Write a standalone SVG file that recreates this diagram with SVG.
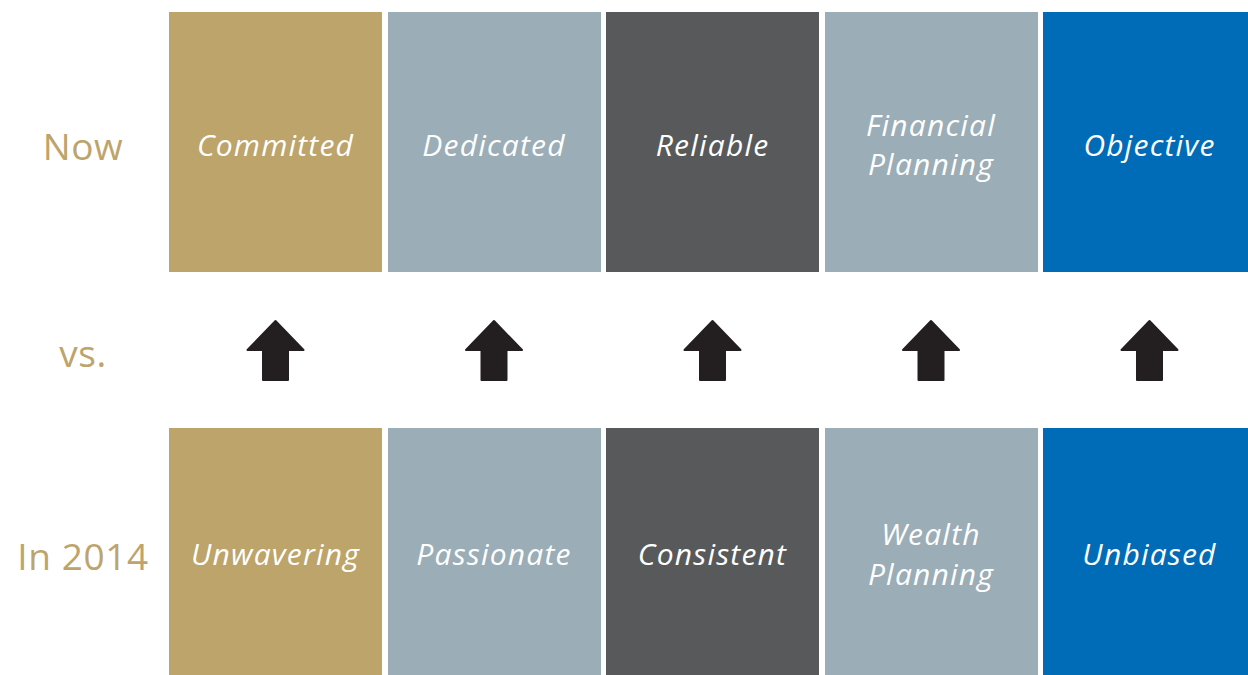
<svg xmlns="http://www.w3.org/2000/svg" width="1248" height="675" viewBox="0 0 1248 675">
<style>
.lbl{font-family:"Open Sans","Liberation Sans",sans-serif;fill:#bda46b;font-size:37px;text-anchor:middle;letter-spacing:0.6px}
.t{font-family:"Open Sans","Liberation Sans",sans-serif;font-style:italic;fill:#ffffff;font-size:30px;text-anchor:middle;letter-spacing:1.2px}
.gold{fill:#bda46b}.grey{fill:#9badb6}.dark{fill:#58595b}.blue{fill:#006cb7}
.arr{fill:#231f20;stroke:#231f20;stroke-width:2;stroke-linejoin:round}
</style>
<rect width="1248" height="675" fill="#ffffff"/>
<g id="row-labels">
<text class="lbl" x="83" y="160">Now</text>
<text class="lbl" x="83" y="367">vs.</text>
<text class="lbl" x="83" y="570">In 2014</text>
</g>
<g id="now-committed"><rect class="gold" x="169" y="12" width="213" height="260"/><text class="t" x="275.5" y="156">Committed</text></g>
<g id="now-dedicated"><rect class="grey" x="388" y="12" width="213" height="260"/><text class="t" x="494" y="156">Dedicated</text></g>
<g id="now-reliable"><rect class="dark" x="606" y="12" width="213" height="260"/><text class="t" x="712.5" y="156">Reliable</text></g>
<g id="now-financial"><rect class="grey" x="825" y="12" width="213" height="260"/><text class="t" x="931" y="136">Financial</text><text class="t" x="931" y="175">Planning</text></g>
<g id="now-objective"><rect class="blue" x="1043" y="12" width="213" height="260"/><text class="t" x="1149.5" y="156">Objective</text></g>
<g id="then-unwavering"><rect class="gold" x="169" y="428" width="213" height="247"/><text class="t" x="275.5" y="565">Unwavering</text></g>
<g id="then-passionate"><rect class="grey" x="388" y="428" width="213" height="247"/><text class="t" x="494" y="565">Passionate</text></g>
<g id="then-consistent"><rect class="dark" x="606" y="428" width="213" height="247"/><text class="t" x="712.5" y="565">Consistent</text></g>
<g id="then-wealth"><rect class="grey" x="825" y="428" width="213" height="247"/><text class="t" x="931" y="545">Wealth</text><text class="t" x="931" y="585">Planning</text></g>
<g id="then-unbiased"><rect class="blue" x="1043" y="428" width="213" height="247"/><text class="t" x="1149.5" y="565">Unbiased</text></g>
<g id="connectors">
<defs><path id="ar" d="M0,-29 L28,0 L12.5,0 L12.5,30 L-12.5,30 L-12.5,0 L-28,0 Z"/></defs>
<use href="#ar" class="arr" x="275.5" y="350"/>
<use href="#ar" class="arr" x="494" y="350"/>
<use href="#ar" class="arr" x="712.5" y="350"/>
<use href="#ar" class="arr" x="931" y="350"/>
<use href="#ar" class="arr" x="1149.5" y="350"/>
</g>
</svg>
